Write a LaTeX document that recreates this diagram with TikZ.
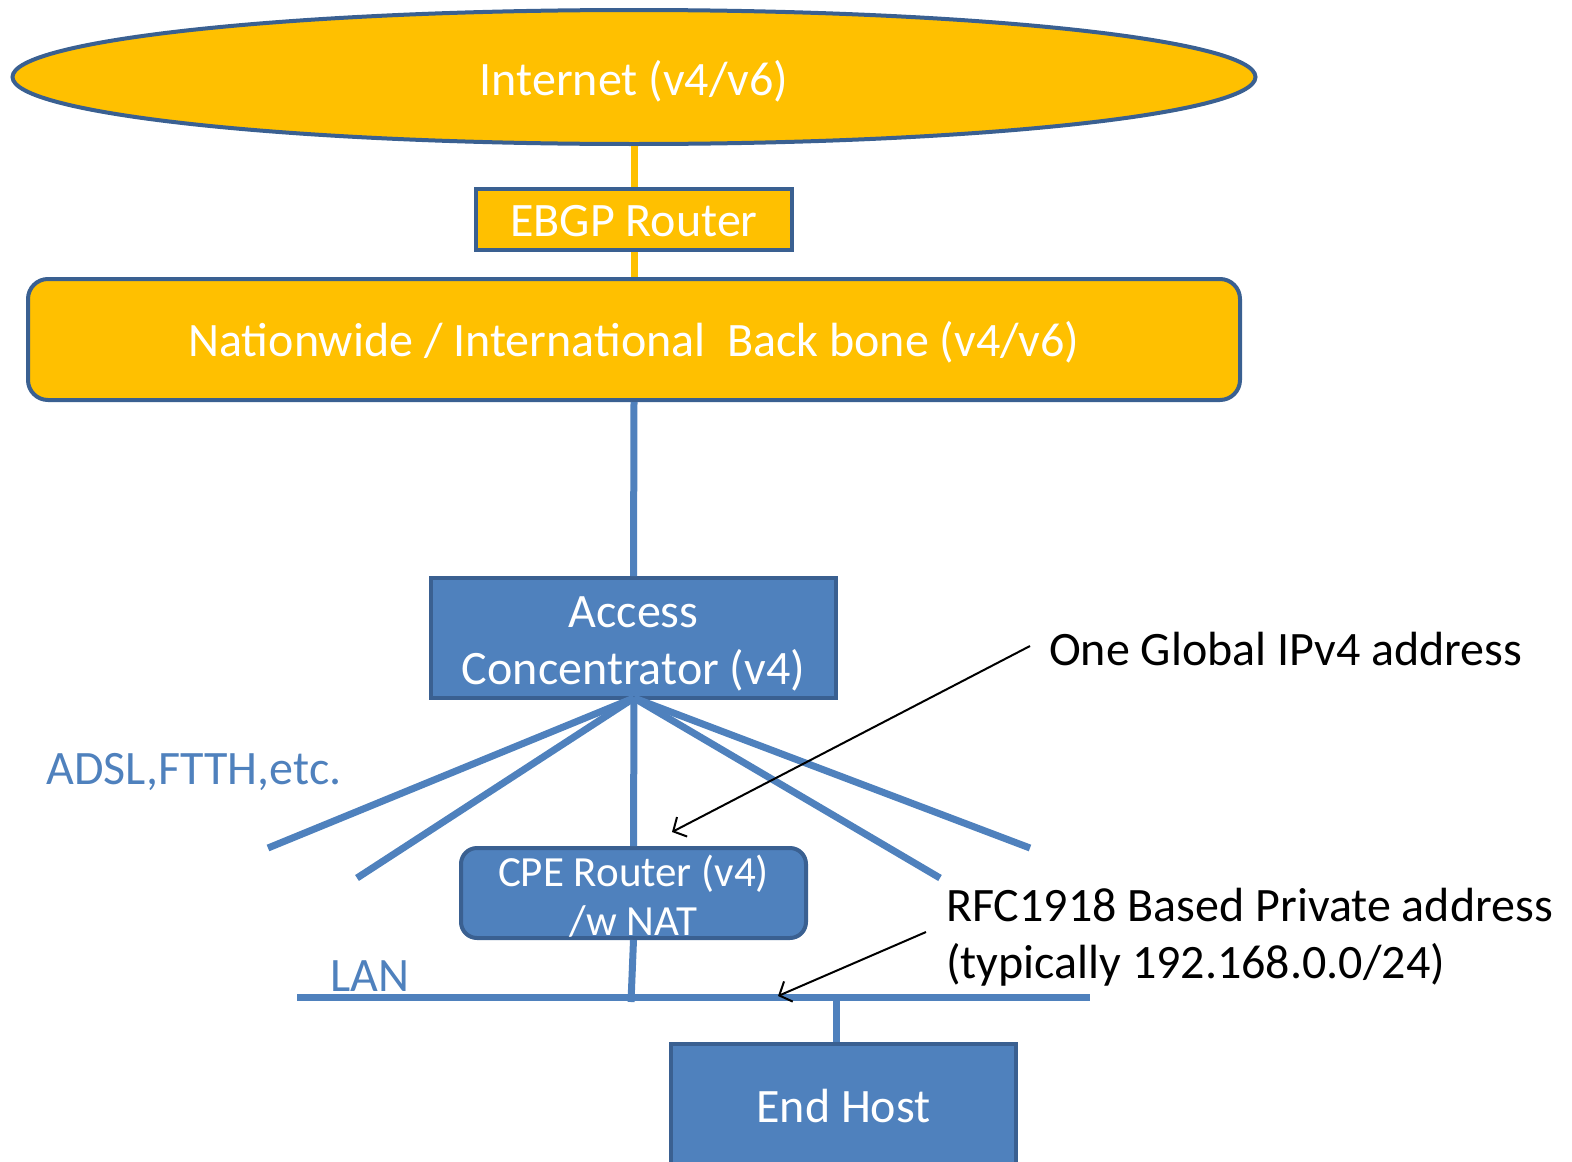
\documentclass[tikz,border=0pt]{standalone}
\usepackage{fontspec}
\setmainfont{Carlito}
\usetikzlibrary{shapes.geometric,arrows.meta}
\definecolor{gold}{HTML}{FFC000}
\definecolor{bfill}{HTML}{4F81BD}
\definecolor{bedge}{HTML}{3A6091}
\newcommand{\dropTxt}[2]{\raisebox{-#1}[\height][\depth]{#2}}
\tikzset{
  yelbox/.style={draw=bedge,line width=4pt,fill=gold,text=white,inner sep=0pt,font=\fontsize{48}{57}\selectfont},
  bluebox/.style={draw=bedge,line width=4pt,fill=bfill,text=white,inner sep=0pt,align=center,font=\fontsize{48}{57}\selectfont},
  yline/.style={draw=gold,line width=7pt},
  bline/.style={draw=bfill,line width=7pt},
  note/.style={text=black,inner sep=0pt,align=left,font=\fontsize{48}{57}\selectfont},
  bluelabel/.style={text=bfill,inner sep=0pt,font=\fontsize{48}{57}\selectfont},
  callout/.style={draw=black,line width=2pt,-{Straight Barb[length=10pt,width=22pt,line width=2pt]}}
}
\begin{document}
\begin{tikzpicture}[x=1pt,y=-1pt]
\useasboundingbox (0,0) rectangle (1572,1162);
\clip (0,0) rectangle (1572,1162);
% nodes
\node[yelbox,ellipse,minimum width=1243pt,minimum height=134pt] (inet) at (634,77) {\dropTxt{4pt}{Internet (v4/v6)}};
\node[yelbox,minimum width=316pt,minimum height=61pt] (ebgp) at (634,219.5) {\dropTxt{2pt}{EBGP Router}};
\node[yelbox,rounded corners=20pt,minimum width=1212pt,minimum height=121pt] (bb) at (634,339.5) {\dropTxt{3pt}{Nationwide / International\ \ Back bone (v4/v6)}};
\node[bluebox,minimum width=405pt,minimum height=120pt] (ac) at (633.5,638) {\dropTxt{6pt}{Access}\\\dropTxt{6pt}{Concentrator (v4)}};
\node[bluebox,rounded corners=16pt,minimum width=345pt,minimum height=90pt,font=\fontsize{43}{49}\selectfont] (cpe) at (633.5,893) {\dropTxt{3pt}{CPE Router (v4)}\\\dropTxt{3pt}{/w NAT}};
\node[bluebox,minimum width=345pt,minimum height=128pt,anchor=north] (host) at (843.5,1042) {\raisebox{4pt}{End Host}};
% labels
\node[bluelabel] (adsl) at (194,772) {ADSL,FTTH,etc.};
\node[bluelabel] (lanlbl) at (370,976) {LAN};
\node[note,anchor=west] (glob) at (1049,649) {One Global IPv4 address};
\node[note,anchor=north west] (rfc) at (946,888) {RFC1918 Based Private address\\(typically 192.168.0.0/24)};
% coordinates
\coordinate (apex) at (634,698);
\coordinate (f1) at (268,848);
\coordinate (f2) at (357,878);
\coordinate (f4) at (940,878);
\coordinate (f5) at (1030,848);
\coordinate (lanL) at (297,997);
\coordinate (lanR) at (1090,997);
\coordinate (lanJ) at (631,1002);
\coordinate (hostJ) at (836,997);
\coordinate (g1) at (1030,646);
\coordinate (g2) at (672,832);
\coordinate (r1) at (926,932);
\coordinate (r2) at (778,996);
% connectors
\draw[yline] (inet.south) -- (ebgp.north);
\draw[yline] (ebgp.south) -- (bb.north);
\draw[bline] (bb.south) -- (ac.north);
\draw[bline] (apex) -- (f1);
\draw[bline] (apex) -- (f2);
\draw[bline] (apex) -- (cpe.north);
\draw[bline] (apex) -- (f4);
\draw[bline] (apex) -- (f5);
\draw[bline] (lanL) -- (lanR);
\draw[bline] (cpe.south) -- (lanJ);
\draw[bline] (hostJ) -- (host.north -| hostJ);
% callouts
\draw[callout] (g1) -- (g2);
\draw[callout] (r1) -- (r2);
\end{tikzpicture}
\end{document}
